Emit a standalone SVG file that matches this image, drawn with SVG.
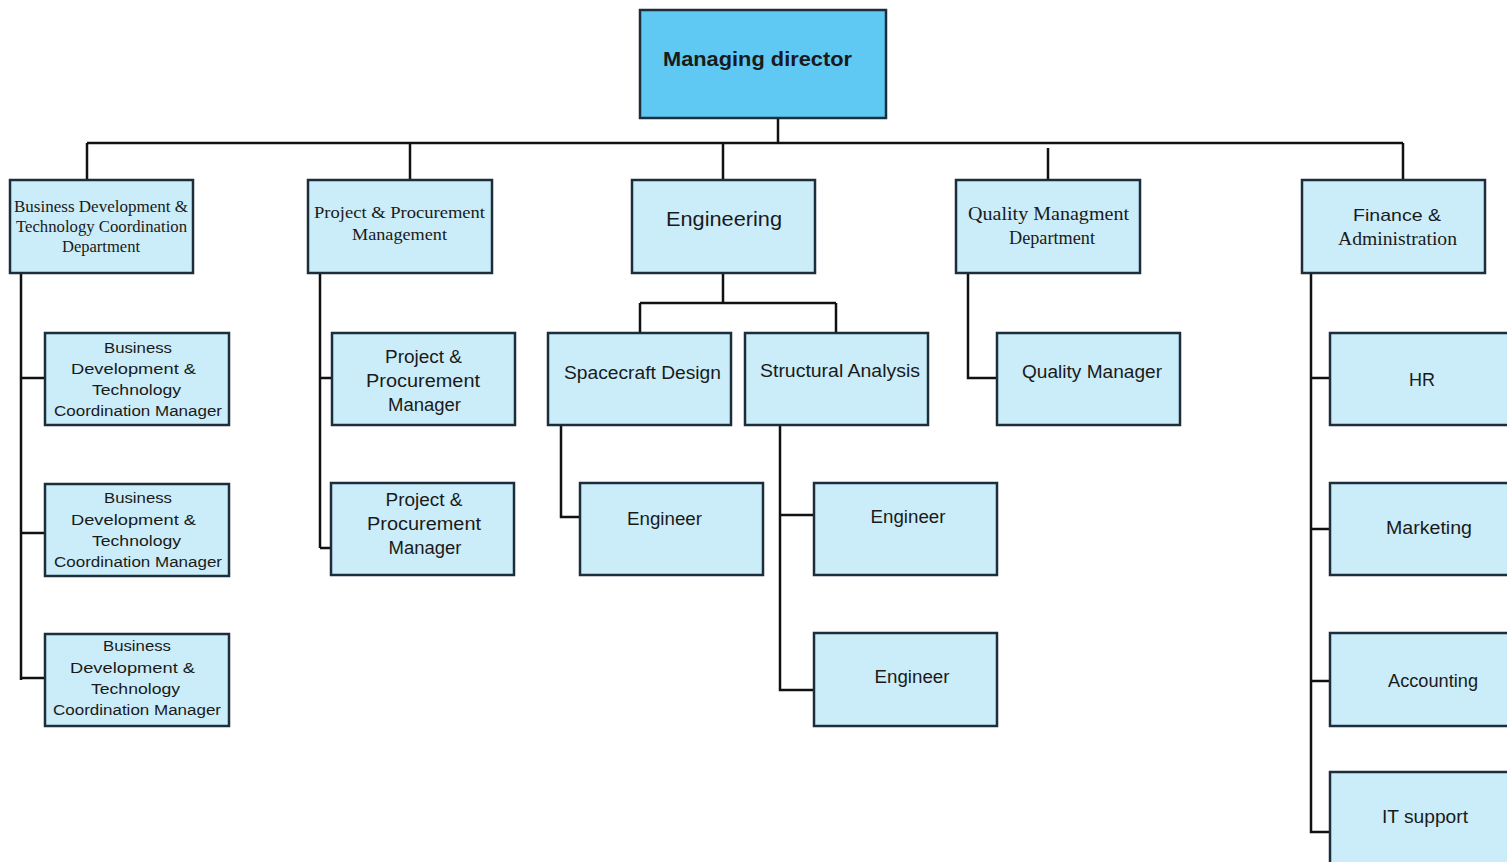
<svg xmlns="http://www.w3.org/2000/svg" width="1507" height="862" viewBox="0 0 1507 862">
<style>
.box{fill:#CBEDF9;stroke:#1C2E3C;stroke-width:2.5}
.top{fill:#5FC9F3;stroke:#1C2E3C;stroke-width:2.5}
.con{fill:none;stroke:#111;stroke-width:2.5}
.s{font-family:"Liberation Sans","Noto Sans",sans-serif;fill:#1a1a1a;text-anchor:middle}
.r{font-family:"Liberation Serif","Times New Roman",serif;fill:#1a1a1a;text-anchor:middle}
</style>
<rect width="1507" height="862" fill="#fff"/>
<g id="connectors" class="con">
<path d="M778 118V143M87 143H1403M87 143V180M410 143V180M723 143V180M1048 148V183M1403 143V180"/>
<path d="M21 273V680M21 378H45M21 533H45M21 678H45"/>
<path d="M320 273V548M320 378H332M320 548H331"/>
<path d="M723 273V303M640 303H836M640 303V333M836 303V333"/>
<path d="M561 425V517H580"/>
<path d="M780 425V690H814M780 515H814"/>
<path d="M968 273V378H997"/>
<path d="M1311 273V832H1330M1311 378H1330M1311 529H1330M1311 681H1330"/>
</g>
<g id="md"><rect class="top" x="640" y="10" width="246" height="108"/><text class="s" x="757.5" y="66" font-size="20" font-weight="bold" textLength="189" lengthAdjust="spacingAndGlyphs">Managing director</text></g>
<g id="bd-dept"><rect class="box" x="10" y="180" width="183" height="93"/><text class="r" x="101" y="212" font-size="16" textLength="174" lengthAdjust="spacingAndGlyphs">Business Development &amp;</text><text class="r" x="101.5" y="232" font-size="16" textLength="171" lengthAdjust="spacingAndGlyphs">Technology Coordination</text><text class="r" x="101" y="252" font-size="16" textLength="78" lengthAdjust="spacingAndGlyphs">Department</text></g>
<g id="pp-dept"><rect class="box" x="308" y="180" width="184" height="93"/><text class="r" x="399.5" y="218" font-size="17" textLength="171" lengthAdjust="spacingAndGlyphs">Project &amp; Procurement</text><text class="r" x="399.5" y="240" font-size="17" textLength="95" lengthAdjust="spacingAndGlyphs">Management</text></g>
<g id="eng"><rect class="box" x="632" y="180" width="183" height="93"/><text class="s" x="724" y="226" font-size="20" textLength="116" lengthAdjust="spacingAndGlyphs">Engineering</text></g>
<g id="qa-dept"><rect class="box" x="956" y="180" width="184" height="93"/><text class="r" x="1048.5" y="220" font-size="18" textLength="161" lengthAdjust="spacingAndGlyphs">Quality Managment</text><text class="r" x="1052" y="244" font-size="18" textLength="86" lengthAdjust="spacingAndGlyphs">Department</text></g>
<g id="fin"><rect class="box" x="1302" y="180" width="183" height="93"/><text class="s" x="1397" y="221" font-size="17" textLength="88" lengthAdjust="spacingAndGlyphs">Finance &amp;</text><text class="r" x="1397.5" y="245" font-size="18" textLength="119" lengthAdjust="spacingAndGlyphs">Administration</text></g>
<g id="bd1"><rect class="box" x="45" y="333" width="184" height="92"/><text class="s" x="138" y="353" font-size="15.5" textLength="68" lengthAdjust="spacingAndGlyphs">Business</text><text class="s" x="133.5" y="374" font-size="15.5" textLength="125" lengthAdjust="spacingAndGlyphs">Development &amp;</text><text class="s" x="136.5" y="395" font-size="15.5" textLength="89" lengthAdjust="spacingAndGlyphs">Technology</text><text class="s" x="138" y="416" font-size="15.5" textLength="168" lengthAdjust="spacingAndGlyphs">Coordination Manager</text></g>
<g id="bd2"><rect class="box" x="45" y="484" width="184" height="92"/><text class="s" x="138" y="503" font-size="15.5" textLength="68" lengthAdjust="spacingAndGlyphs">Business</text><text class="s" x="133.5" y="525" font-size="15.5" textLength="125" lengthAdjust="spacingAndGlyphs">Development &amp;</text><text class="s" x="136.5" y="546" font-size="15.5" textLength="89" lengthAdjust="spacingAndGlyphs">Technology</text><text class="s" x="138" y="567" font-size="15.5" textLength="168" lengthAdjust="spacingAndGlyphs">Coordination Manager</text></g>
<g id="bd3"><rect class="box" x="45" y="634" width="184" height="92"/><text class="s" x="137" y="651" font-size="15.5" textLength="68" lengthAdjust="spacingAndGlyphs">Business</text><text class="s" x="132.5" y="673" font-size="15.5" textLength="125" lengthAdjust="spacingAndGlyphs">Development &amp;</text><text class="s" x="135.5" y="694" font-size="15.5" textLength="89" lengthAdjust="spacingAndGlyphs">Technology</text><text class="s" x="137" y="715" font-size="15.5" textLength="168" lengthAdjust="spacingAndGlyphs">Coordination Manager</text></g>
<g id="pp1"><rect class="box" x="332" y="333" width="183" height="92"/><text class="s" x="423.5" y="363" font-size="17.5" textLength="77" lengthAdjust="spacingAndGlyphs">Project &amp;</text><text class="s" x="423" y="387" font-size="17.5" textLength="114" lengthAdjust="spacingAndGlyphs">Procurement</text><text class="s" x="424.5" y="411" font-size="17.5" textLength="73" lengthAdjust="spacingAndGlyphs">Manager</text></g>
<g id="pp2"><rect class="box" x="331" y="483" width="183" height="92"/><text class="s" x="424" y="506" font-size="17.5" textLength="77" lengthAdjust="spacingAndGlyphs">Project &amp;</text><text class="s" x="424" y="530" font-size="17.5" textLength="114" lengthAdjust="spacingAndGlyphs">Procurement</text><text class="s" x="425" y="554" font-size="17.5" textLength="73" lengthAdjust="spacingAndGlyphs">Manager</text></g>
<g id="sd"><rect class="box" x="548" y="333" width="183" height="92"/><text class="s" x="642.5" y="379" font-size="17.5" textLength="157" lengthAdjust="spacingAndGlyphs">Spacecraft Design</text></g>
<g id="sa"><rect class="box" x="745" y="333" width="183" height="92"/><text class="s" x="840" y="377" font-size="17.5" textLength="160" lengthAdjust="spacingAndGlyphs">Structural Analysis</text></g>
<g id="eng1"><rect class="box" x="580" y="483" width="183" height="92"/><text class="s" x="664.5" y="525" font-size="17.5" textLength="75" lengthAdjust="spacingAndGlyphs">Engineer</text></g>
<g id="eng2"><rect class="box" x="814" y="483" width="183" height="92"/><text class="s" x="908" y="523" font-size="17.5" textLength="75" lengthAdjust="spacingAndGlyphs">Engineer</text></g>
<g id="eng3"><rect class="box" x="814" y="633" width="183" height="93"/><text class="s" x="912" y="683" font-size="17.5" textLength="75" lengthAdjust="spacingAndGlyphs">Engineer</text></g>
<g id="qm"><rect class="box" x="997" y="333" width="183" height="92"/><text class="s" x="1092" y="378" font-size="17.5" textLength="140" lengthAdjust="spacingAndGlyphs">Quality Manager</text></g>
<g id="hr"><rect class="box" x="1330" y="333" width="190" height="92"/><text class="s" x="1422" y="386" font-size="17.5" textLength="26" lengthAdjust="spacingAndGlyphs">HR</text></g>
<g id="mkt"><rect class="box" x="1330" y="483" width="190" height="92"/><text class="s" x="1429" y="534" font-size="17.5" textLength="86" lengthAdjust="spacingAndGlyphs">Marketing</text></g>
<g id="acc"><rect class="box" x="1330" y="633" width="190" height="93"/><text class="s" x="1433" y="687" font-size="17.5" textLength="90" lengthAdjust="spacingAndGlyphs">Accounting</text></g>
<g id="it"><rect class="box" x="1330" y="772" width="190" height="100"/><text class="s" x="1425" y="823" font-size="17.5" textLength="86" lengthAdjust="spacingAndGlyphs">IT support</text></g>
</svg>
